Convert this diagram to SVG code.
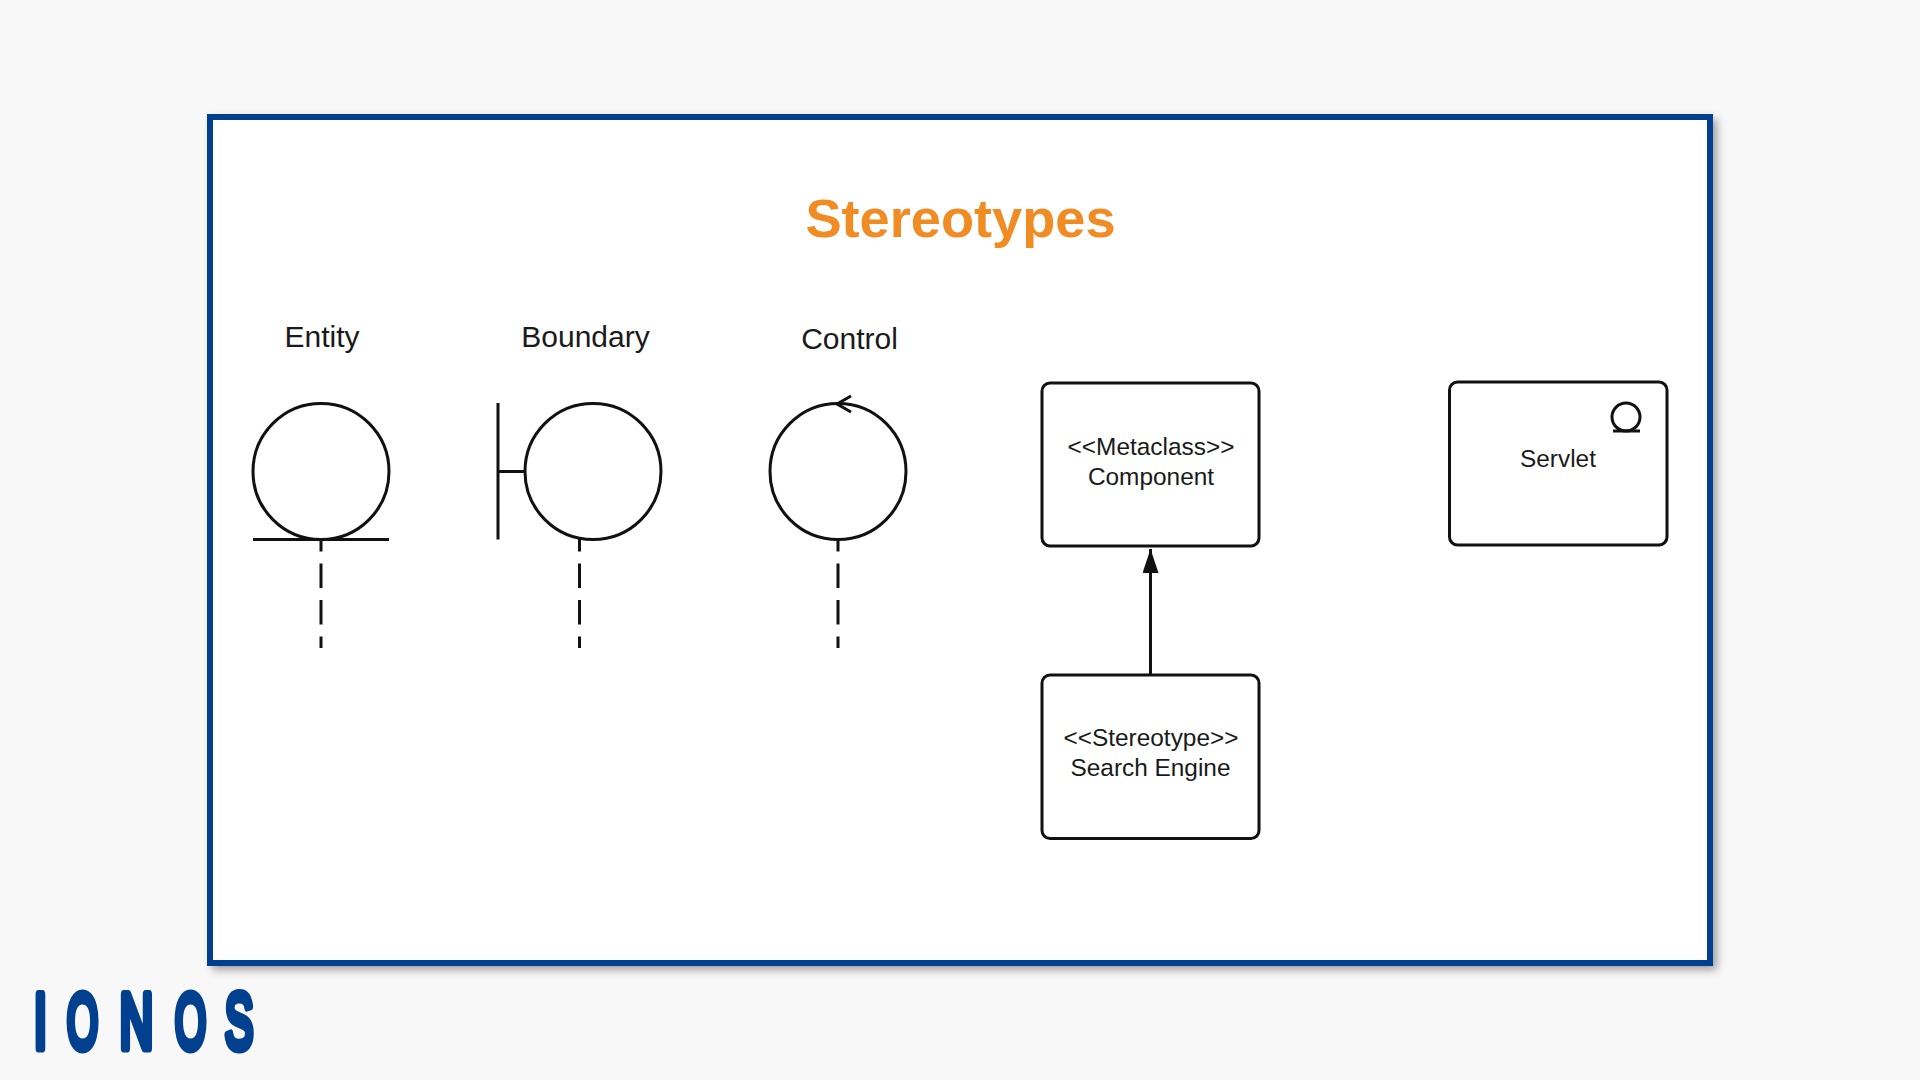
<svg xmlns="http://www.w3.org/2000/svg" width="1920" height="1080" viewBox="0 0 1920 1080">
<style>
text{font-family:"Liberation Sans",Arial,sans-serif;fill:#1a1a1a;text-anchor:middle}
.l{font-size:30px}
.b{font-size:24.4px}
.s{fill:none;stroke:#111;stroke-width:3}
.box{fill:#fff;stroke:#111;stroke-width:3}
.d{fill:none;stroke:#111;stroke-width:3;stroke-dasharray:24.5 12;stroke-dashoffset:12}
.logo{font-size:77px;fill:#00408f;stroke:#00408f;stroke-width:9;stroke-linejoin:round}
</style>
<defs>
<filter id="sh" x="-5%" y="-5%" width="110%" height="110%"><feGaussianBlur stdDeviation="4"/></filter>
<marker id="ah" markerUnits="userSpaceOnUse" markerWidth="25" markerHeight="16" refX="24" refY="8" viewBox="0 0 25 16" orient="auto"><path d="M0 0L24 8L0 16Z" fill="#111"/></marker>
</defs>
<rect width="1920" height="1080" fill="#f8f8f9"/>
<rect x="212" y="119" width="1505" height="851" fill="#555" opacity=".55" filter="url(#sh)"/>
<rect id="frame" x="210" y="117" width="1500" height="846" fill="#fff" stroke="#00408f" stroke-width="6"/>
<text x="960.500" y="237" font-size="54.200" font-weight="700" style="fill:#f08c23">Stereotypes</text>
<g id="entity"><text class="l" x="322" y="347">Entity</text><circle class="s" cx="321" cy="471.500" r="68"/><line class="s" x1="253" y1="539.500" x2="389" y2="539.500"/></g>
<g id="boundary"><text class="l" x="585.500" y="347">Boundary</text><circle class="s" cx="593" cy="471.500" r="68"/><path class="s" d="M498 403V539.500M498 471.500H525"/></g>
<g id="control"><text class="l" x="849.500" y="349">Control</text><circle class="s" cx="838" cy="471.500" r="68"/><path class="s" d="M851 396L837 404L851 412"/></g>
<g id="component"><rect class="box" x="1042" y="383" width="217" height="163" rx="8"/><text class="b" x="1151" y="455">&lt;&lt;Metaclass&gt;&gt;</text><text class="b" x="1151" y="485">Component</text></g>
<g id="search-engine"><rect class="box" x="1042" y="675" width="217" height="163.500" rx="8"/><text class="b" x="1151" y="746">&lt;&lt;Stereotype&gt;&gt;</text><text class="b" x="1150.500" y="776">Search Engine</text></g>
<g id="servlet"><rect class="box" x="1449.500" y="382" width="217.500" height="163" rx="8"/><text class="b" x="1558" y="467">Servlet</text><circle class="s" cx="1626" cy="417" r="14"/><line class="s" x1="1613" y1="431" x2="1640" y2="431"/></g>
<g id="connectors">
<line class="d" x1="321" y1="539" x2="321" y2="648"/>
<line class="d" x1="579.500" y1="539" x2="579.500" y2="648"/>
<line class="d" x1="838" y1="539" x2="838" y2="648"/>
<line class="s" x1="1150.500" y1="675" x2="1150.500" y2="549" marker-end="url(#ah)"/>
</g>
<g id="logo">
<text class="logo" transform="translate(40.500 1048) scale(.6 1)">I</text>
<text class="logo" transform="translate(82.500 1048) scale(.52 1)">O</text>
<text class="logo" transform="translate(136.500 1048) scale(.6 1)">N</text>
<text class="logo" transform="translate(190.500 1048) scale(.52 1)">O</text>
<text class="logo" transform="translate(239 1048) scale(.55 1)">S</text>
</g>
</svg>
